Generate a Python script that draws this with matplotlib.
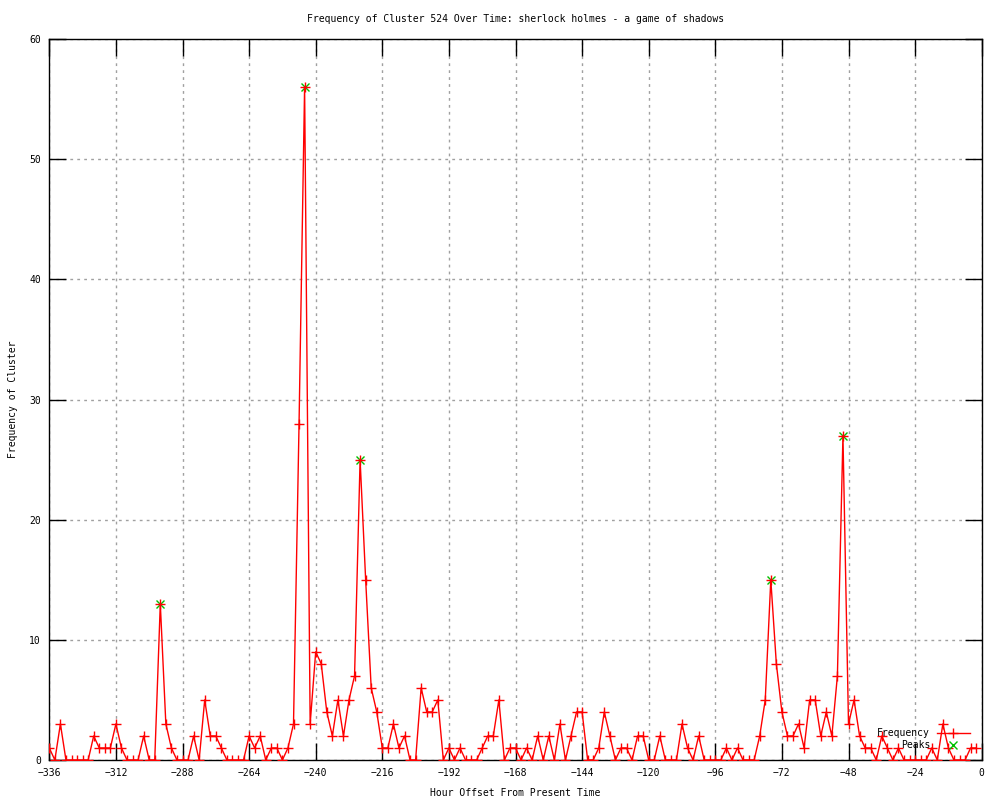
import numpy as np
import matplotlib
matplotlib.use("Agg")
import matplotlib.pyplot as plt

# hours before now, sampled every 2 hours
hours = np.arange(-336, 0, 2)

# frequency of the cluster at each hour
frequency = [
    1, 0, 3, 0, 0, 0, 0, 0, 2, 1, 1, 1, 3, 1, 0, 0, 0, 2, 0, 0,
    13, 3, 1, 0, 0, 0, 2, 0, 5, 2, 2, 1, 0, 0, 0, 0, 2, 1, 2, 0,
    1, 1, 0, 1, 3, 28, 56, 3, 9, 8, 4, 2, 5, 2, 5, 7, 25, 15, 6, 4,
    1, 1, 3, 1, 2, 0, 0, 6, 4, 4, 5, 0, 1, 0, 1, 0, 0, 0, 1, 2,
    2, 5, 0, 1, 1, 0, 1, 0, 2, 0, 2, 0, 3, 0, 2, 4, 4, 0, 0, 1,
    4, 2, 0, 1, 1, 0, 2, 2, 0, 0, 2, 0, 0, 0, 3, 1, 0, 2, 0, 0,
    0, 0, 1, 0, 1, 0, 0, 0, 2, 5, 15, 8, 4, 2, 2, 3, 1, 5, 5, 2,
    4, 2, 7, 27, 3, 5, 2, 1, 1, 0, 2, 1, 0, 1, 0, 0, 0, 0, 0, 1,
    0, 3, 1, 0, 0, 0, 1, 1,
]

# detected peaks
peak_hours = [-296, -244, -224, -76, -50]
peak_values = [13, 56, 25, 15, 27]

mono = "DejaVu Sans Mono"
fs = 7

fig = plt.figure(figsize=(10, 8), dpi=100)
ax = fig.add_axes([0.0493, 0.05, 0.9324, 0.90125])

ax.plot(peak_hours, peak_values, linestyle="none", marker="x", color="#00c000",
        markersize=6, markeredgewidth=1, label="Peaks", zorder=3)
ax.plot(hours, frequency, color="red", linewidth=1, marker="+", markersize=7,
        markeredgewidth=1, label="Frequency", zorder=4)

ax.set_xlim(-336, 0)
ax.set_ylim(0, 60)
ax.set_xticks(np.arange(-336, 1, 24))
ax.set_yticks(np.arange(0, 61, 10))
ax.tick_params(direction="in", length=12, width=1, top=True, right=True,
               labelsize=fs, pad=6)
for lbl in ax.get_xticklabels() + ax.get_yticklabels():
    lbl.set_family(mono)
ax.grid(True, color="#a0a0a0", linestyle=(0, (2, 3)), linewidth=1)
for s in ax.spines.values():
    s.set_linewidth(1)
    s.set_color("black")

ax.set_title("Frequency of Cluster 524 Over Time: sherlock holmes - a game of shadows",
             fontsize=fs, family=mono, pad=12)
ax.set_xlabel("Hour Offset From Present Time", fontsize=fs, family=mono)
ax.set_ylabel("Frequency of Cluster", fontsize=fs, family=mono)
ax.xaxis.set_label_coords(0.5, -0.0388)
ax.yaxis.set_label_coords(-0.0336, 0.5)

handles, labels = ax.get_legend_handles_labels()
ax.legend(handles[::-1], labels[::-1], loc="lower right",
          bbox_to_anchor=(0.970, 0.062), bbox_transform=fig.transFigure,
          frameon=False, markerfirst=False, numpoints=1, handlelength=3.4,
          handletextpad=0.7, labelspacing=0.25, borderpad=0, borderaxespad=0,
          prop={"family": mono, "size": fs})

fig.savefig("out.png", dpi=100)
